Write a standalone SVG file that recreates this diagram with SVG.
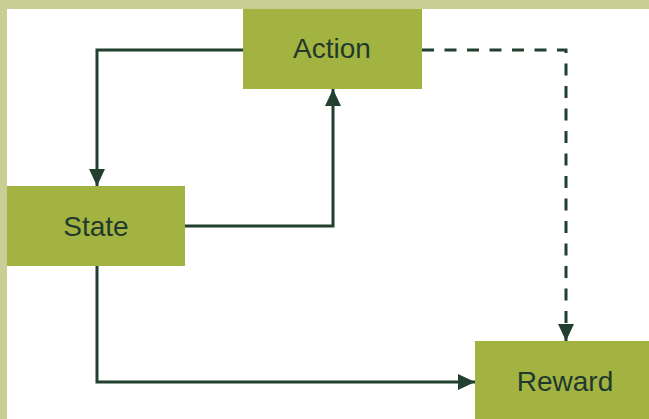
<svg xmlns="http://www.w3.org/2000/svg" width="649" height="419" viewBox="0 0 649 419">
  <style>
    .box { fill: #a3b341; }
    .lbl { font-family: "Liberation Sans", Arial, sans-serif; font-size: 28px; fill: #1f3a2c; text-anchor: middle; }
    .edge { fill: none; stroke: #21402f; stroke-width: 3; }
    .dash { stroke-dasharray: 12 10.5; }
    .band { fill: #c9ce94; }
  </style>
  <defs>
    <marker id="arr" markerUnits="userSpaceOnUse" markerWidth="17" markerHeight="17" refX="17" refY="8" orient="auto">
      <path d="M0,0 L17,8 L0,16 z" fill="#21402f"/>
    </marker>
  </defs>
  <rect width="649" height="419" fill="#ffffff"/>
  <g id="connectors">
    <path class="edge" d="M243,50 H97 V186" marker-end="url(#arr)"/>
    <path class="edge" d="M185,226 H333 V89" marker-end="url(#arr)"/>
    <path class="edge" d="M97,266 V382 H475" marker-end="url(#arr)"/>
    <path class="edge dash" d="M422,50 H566 V341" marker-end="url(#arr)"/>
  </g>
  <g id="action">
    <rect class="box" x="243" y="0" width="179" height="89"/>
    <text class="lbl" x="332" y="58">Action</text>
  </g>
  <g id="state">
    <rect class="box" x="0" y="186" width="185" height="80"/>
    <text class="lbl" x="96" y="236">State</text>
  </g>
  <g id="reward">
    <rect class="box" x="475" y="341" width="174" height="78"/>
    <text class="lbl" x="565" y="391">Reward</text>
  </g>
  <rect class="band" x="0" y="0" width="649" height="9"/>
  <rect class="band" x="0" y="0" width="7" height="419"/>
</svg>
